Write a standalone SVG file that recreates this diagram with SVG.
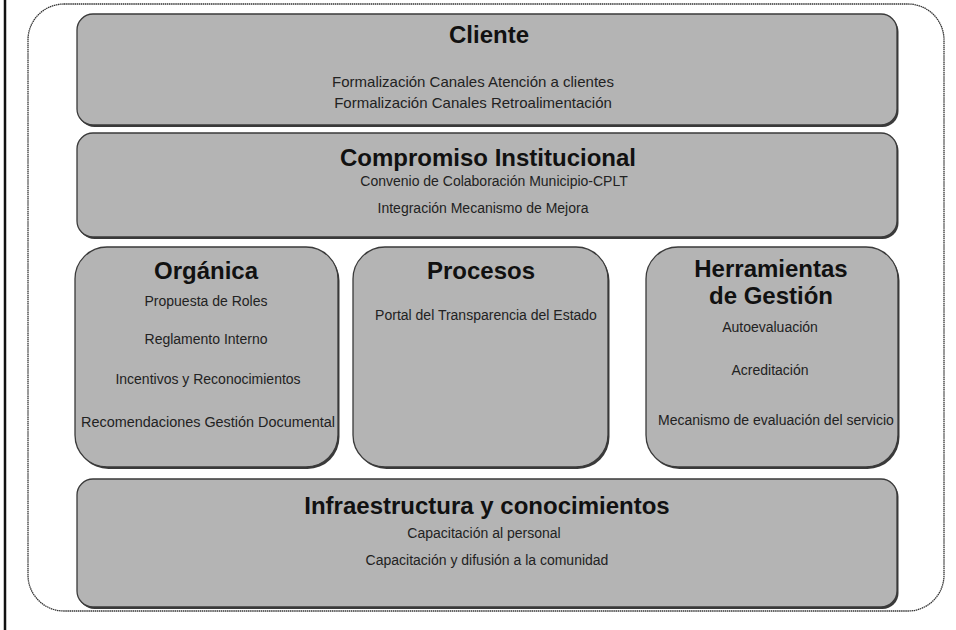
<svg xmlns="http://www.w3.org/2000/svg" width="956" height="630" viewBox="0 0 956 630">
<style>
  .page{fill:#fff}
  .edge{stroke:#111;stroke-width:2.5}
  .outer{fill:#fff;stroke:#333;stroke-width:1.3;stroke-dasharray:1.5 0.6}
  .shadow{fill:#3a3a3a}
  .box{fill:#b4b4b4;stroke:#3a3a3a;stroke-width:1.3}
  .title{font-family:"Liberation Sans",Arial,sans-serif;font-weight:bold;font-size:24px;fill:#111;text-anchor:middle}
  .item{font-family:"Liberation Sans",Arial,sans-serif;font-size:14px;fill:#222;text-anchor:middle}
  .big{font-size:15px}
</style>
<rect class="page" x="0" y="0" width="956" height="630"/>
<line class="edge" x1="5" y1="0" x2="5" y2="630"/>
<rect class="outer" x="28" y="4" width="916" height="607" rx="36" ry="36"/>

<g id="cliente">
  <rect class="shadow" x="78.5" y="16" width="820" height="111" rx="16"/>
  <rect class="box" x="77" y="14" width="820" height="111" rx="16"/>
  <text class="title" x="489" y="43">Cliente</text>
  <text class="item big" x="473" y="87">Formalización Canales Atención a clientes</text>
  <text class="item big" x="473" y="108">Formalización Canales Retroalimentación</text>
</g>

<g id="compromiso">
  <rect class="shadow" x="78.5" y="135" width="820" height="104" rx="16"/>
  <rect class="box" x="77" y="133" width="820" height="104" rx="16"/>
  <text class="title" x="488" y="166">Compromiso Institucional</text>
  <text class="item" x="494" y="186">Convenio de Colaboración Municipio-CPLT</text>
  <text class="item" x="483" y="213">Integración Mecanismo de Mejora</text>
</g>

<g id="organica">
  <rect class="shadow" x="76.5" y="249" width="263" height="220" rx="32"/>
  <rect class="box" x="75" y="247" width="263" height="220" rx="32"/>
  <text class="title" x="206" y="279">Orgánica</text>
  <text class="item" x="206" y="306">Propuesta de Roles</text>
  <text class="item" x="206" y="344">Reglamento Interno</text>
  <text class="item" x="208" y="384">Incentivos y Reconocimientos</text>
  <text class="item" x="208" y="427" textLength="254" lengthAdjust="spacingAndGlyphs">Recomendaciones Gestión Documental</text>
</g>

<g id="procesos">
  <rect class="shadow" x="354.5" y="249" width="255" height="220" rx="32"/>
  <rect class="box" x="353" y="247" width="255" height="220" rx="32"/>
  <text class="title" x="481" y="279">Procesos</text>
  <text class="item" x="486" y="320">Portal del Transparencia del Estado</text>
</g>

<g id="herramientas">
  <rect class="shadow" x="647.5" y="249" width="252" height="220" rx="32"/>
  <rect class="box" x="646" y="247" width="252" height="220" rx="32"/>
  <text class="title" x="771" y="277">Herramientas</text>
  <text class="title" x="771" y="304">de Gestión</text>
  <text class="item" x="770" y="332">Autoevaluación</text>
  <text class="item" x="770" y="375">Acreditación</text>
  <text class="item" x="776" y="425">Mecanismo de evaluación del servicio</text>
</g>

<g id="infraestructura">
  <rect class="shadow" x="78.5" y="481" width="820" height="128" rx="16"/>
  <rect class="box" x="77" y="479" width="820" height="128" rx="16"/>
  <text class="title" x="487" y="514">Infraestructura y conocimientos</text>
  <text class="item" x="484" y="538">Capacitación al personal</text>
  <text class="item" x="487" y="565">Capacitación y difusión a la comunidad</text>
</g>

<g id="connectors"></g>
</svg>
